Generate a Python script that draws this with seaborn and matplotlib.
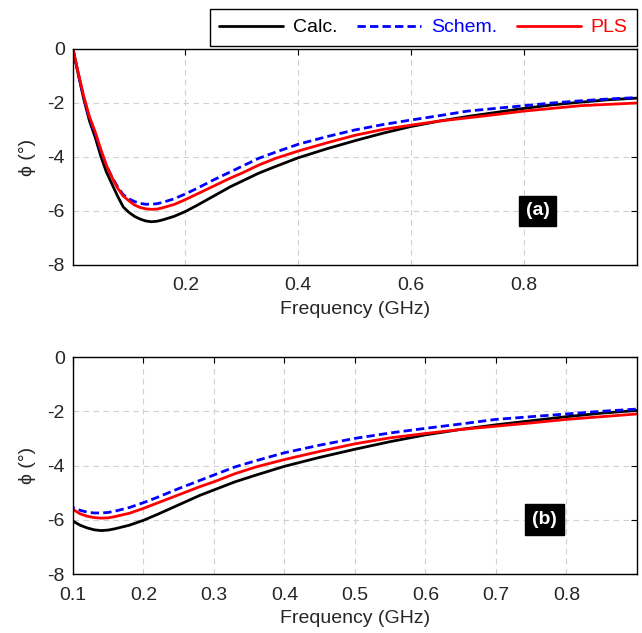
import numpy as np
import pandas as pd
import matplotlib
matplotlib.use("Agg")
import matplotlib.pyplot as plt
import seaborn as sns

# data
freq = [0.001, 0.01, 0.02, 0.03, 0.04, 0.05, 0.06, 0.07, 0.08, 0.09, 0.10,
        0.11, 0.12, 0.13, 0.14, 0.15, 0.16, 0.18, 0.20, 0.22, 0.25, 0.28,
        0.30, 0.33, 0.36, 0.40, 0.45, 0.50, 0.55, 0.60, 0.65, 0.70, 0.75,
        0.80, 0.85, 0.90, 0.95, 1.00]
calc = [0.0, -0.9, -1.85, -2.65, -3.25, -3.95, -4.55, -5.0, -5.45, -5.85, -6.05,
        -6.2, -6.3, -6.37, -6.4, -6.38, -6.33, -6.2, -6.02, -5.8, -5.45, -5.1,
        -4.9, -4.6, -4.35, -4.03, -3.7, -3.4, -3.12, -2.87, -2.67, -2.5, -2.35,
        -2.2, -2.07, -1.97, -1.88, -1.82]
schem = [0.0, -0.9, -1.8, -2.55, -3.1, -3.75, -4.3, -4.75, -5.1, -5.4, -5.55,
         -5.65, -5.72, -5.75, -5.75, -5.73, -5.68, -5.55, -5.37, -5.17, -4.85, -4.55,
         -4.35, -4.05, -3.82, -3.53, -3.25, -3.0, -2.8, -2.63, -2.47, -2.3, -2.2,
         -2.1, -2.0, -1.92, -1.85, -1.8]
pls = [0.0, -0.85, -1.75, -2.5, -3.05, -3.7, -4.3, -4.75, -5.15, -5.45, -5.62,
       -5.78, -5.87, -5.92, -5.94, -5.93, -5.88, -5.76, -5.58, -5.38, -5.08, -4.78,
       -4.6, -4.3, -4.05, -3.78, -3.48, -3.2, -2.98, -2.82, -2.67, -2.55, -2.43,
       -2.3, -2.2, -2.1, -2.05, -2.0]

top_ticks = [0.2, 0.4, 0.6, 0.8]
bottom_ticks = [0.1, 0.2, 0.3, 0.4, 0.5, 0.6, 0.7, 0.8]
y_ticks = [-8, -6, -4, -2, 0]

df = pd.DataFrame({"freq": freq, "Calc.": calc, "Schem.": schem, "PLS": pls})

sns.set_style("white")
plt.rcParams["font.family"] = ["Liberation Sans", "DejaVu Sans"]
plt.rcParams["font.size"] = 14

fig = plt.figure(figsize=(6.42, 6.33), dpi=100)
ax1 = fig.add_axes([0.1137, 0.5814, 0.8783, 0.3412])
ax2 = fig.add_axes([0.1137, 0.0932, 0.8783, 0.3428])

styles = {"Calc.": ("black", "-"), "Schem.": ("blue", (0, (3, 1.5))), "PLS": ("red", "-")}

for ax, xlim, xticks, tag, tagpos in [
    (ax1, (0.001, 1.0), top_ticks, "(a)", (0.824, -6.0)),
    (ax2, (0.1, 0.9), bottom_ticks, "(b)", (0.769, -6.0)),
]:
    for name, (c, ls) in styles.items():
        sns.lineplot(data=df, x="freq", y=name, ax=ax, color=c, linestyle=ls,
                     linewidth=2.0, label=name if ax is ax1 else None, legend=False)
    ax.set_xlim(*xlim)
    ax.set_ylim(-8, 0)
    ax.set_xticks(xticks)
    ax.set_xticklabels([f"{t:.1f}" for t in xticks])
    ax.set_yticks(y_ticks)
    ax.set_yticklabels([str(t) for t in y_ticks])
    ax.grid(True, linestyle=(0, (5, 4)), color="#d0d0d0", linewidth=0.8)
    ax.tick_params(direction="in", length=4, top=True, right=True, labelsize=14,
                   color="black")
    ax.tick_params(axis="x", pad=9)
    ax.tick_params(axis="y", pad=6)
    for s in ax.spines.values():
        s.set_color("black")
        s.set_linewidth(1.0)
    ax.set_xlabel("Frequency (GHz)", fontsize=14, labelpad=5)
    ax.set_ylabel("ϕ (°)", fontsize=14, labelpad=8)
    ax.text(tagpos[0], tagpos[1], tag, color="white", fontweight="bold", fontsize=14,
            ha="center", va="center",
            bbox=dict(facecolor="black", edgecolor="black", boxstyle="square,pad=0.35"))

handles, labels = ax1.get_legend_handles_labels()
leg = fig.legend(handles, labels, loc="upper right", bbox_to_anchor=(637 / 642, 1 - 9 / 633),
                 ncol=3, fancybox=False, edgecolor="black", framealpha=1,
                 handlelength=3.3, columnspacing=1.0, handletextpad=0.5,
                 fontsize=14, labelcolor="linecolor", borderpad=0.5, borderaxespad=0)
leg.get_frame().set_linewidth(1.0)

fig.savefig("out.png", dpi=100)
